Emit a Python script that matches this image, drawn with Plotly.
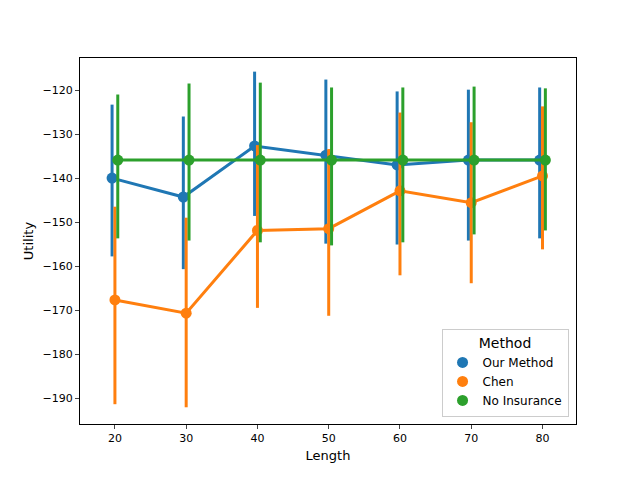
import plotly.graph_objects as go

lengths = [20, 30, 40, 50, 60, 70, 80]
methods = ["Our Method", "Chen", "No Insurance"]
colors = ["#1f77b4", "#ff7f0e", "#2ca02c"]
means = {
    "Our Method": [-139.9, -144.2, -132.6, -134.7, -136.9, -135.8, -135.8],
    "Chen": [-167.6, -170.6, -151.8, -151.4, -142.8, -145.5, -139.4],
    "No Insurance": [-135.8, -135.8, -135.8, -135.8, -135.8, -135.8, -135.8],
}
upper = {
    "Our Method": [-123.2, -125.9, -115.7, -117.5, -120.2, -119.8, -119.3],
    "Chen": [-146.4, -148.9, -132.4, -133.3, -125.0, -127.2, -123.6],
    "No Insurance": [-120.9, -118.4, -118.2, -119.3, -119.3, -119.1, -119.5],
}
lower = {
    "Our Method": [-157.7, -160.6, -148.5, -154.8, -155.0, -154.1, -153.6],
    "Chen": [-191.3, -192.0, -169.4, -171.2, -162.0, -163.8, -156.1],
    "No Insurance": [-153.6, -154.1, -154.5, -155.2, -154.5, -152.7, -151.8],
}
offsets = [-0.4, 0.0, 0.4]

fig = go.Figure()
for m, c, off in zip(methods, colors, offsets):
    xs = [x + off for x in lengths]
    fig.add_trace(go.Scatter(
        x=xs, y=means[m], mode="lines+markers", name=m, showlegend=False,
        line=dict(color=c, width=3), marker=dict(color=c, size=11),
        error_y=dict(type="data", symmetric=False,
                     array=[u - v for u, v in zip(upper[m], means[m])],
                     arrayminus=[v - l for v, l in zip(means[m], lower[m])],
                     color=c, thickness=3, width=0),
    ))
for m, c in zip(methods, colors):
    fig.add_trace(go.Scatter(x=[None], y=[None], mode="markers", name=m,
                             marker=dict(color=c, size=11)))

ax = dict(showline=True, linecolor="black", linewidth=1, mirror=True, ticks="outside",
          ticklen=4, showgrid=False, zeroline=False, tickfont=dict(size=11, color="black"))
fig.update_layout(
    width=624, height=464, plot_bgcolor="white", paper_bgcolor="white",
    margin=dict(l=72, r=56, t=50, b=45),
    font=dict(family="DejaVu Sans", size=11, color="black"),
    xaxis=dict(**ax, range=[15.1, 84.7], tickvals=lengths,
               title=dict(text="Length", standoff=6)),
    yaxis=dict(**ax, range=[-195.8, -112.6], tickvals=list(range(-190, -119, 10)),
               title=dict(text="Utility", standoff=6)),
    legend=dict(title=dict(text="Method", side="top center"), x=0.985, y=0.02, xanchor="right",
                yanchor="bottom", bordercolor="#cccccc", borderwidth=1, bgcolor="white",
                font=dict(size=12)),
)
fig.write_html("out.html")
